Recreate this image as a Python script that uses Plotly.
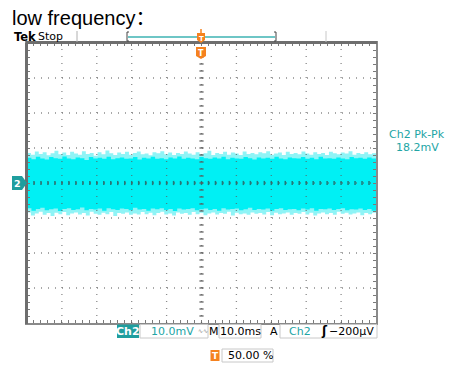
import numpy as np
import plotly.graph_objects as go

# ---------------- data ----------------
time_range_ms = [-50, 50]          # 10 div x 10.0 ms/div
volt_range_mV = [-40, 40]          # 8 div x 10.0 mV/div

# outer (light) envelope of the noise band, mV
up_outer = [8.6,8.1,9.0,8.3,8.8,7.9,8.5,9.2,8.2,8.7,8.0,8.9,8.4,8.1,9.1,8.3,8.6,7.8,8.8,8.2,
            9.3,8.5,8.0,8.7,8.3,8.9,8.1,8.6,9.0,8.2,8.4,7.9,8.8,8.5,9.1,8.2,8.7,8.0,8.6,8.3,
            9.0,8.4,8.1,8.8,8.2,8.5,9.2,8.0,8.6,8.3,8.9,8.1,8.7,8.4,8.0,9.0,8.3,8.6,8.2,8.8,
            8.5,9.1,8.1,8.4,8.7,8.0,8.9,8.3,8.6,8.2,9.0,8.4,8.1,8.8,8.3,8.6,8.0,8.9,8.5,8.2,
            8.7,8.4,9.1,8.1,8.6,8.3,8.8,8.2,8.5,8.9]
lo_outer = [-9.0,-8.4,-9.3,-8.7,-8.2,-9.1,-8.6,-9.4,-8.5,-8.9,-8.3,-9.2,-8.7,-8.4,-9.0,-8.6,-9.3,-8.2,-8.8,-9.1,
            -8.5,-8.9,-8.3,-9.4,-8.6,-8.8,-8.4,-9.1,-8.7,-9.0,-8.3,-8.9,-8.5,-9.2,-8.6,-8.2,-9.0,-8.7,-9.3,-8.4,
            -8.8,-8.6,-9.1,-8.3,-8.9,-8.5,-9.2,-8.7,-8.4,-9.0,-8.6,-8.8,-8.2,-9.3,-8.5,-8.9,-8.7,-9.1,-8.4,-8.8,
            -8.6,-9.0,-8.3,-9.2,-8.5,-8.9,-8.7,-8.4,-9.1,-8.6,-8.8,-8.3,-9.0,-8.5,-9.3,-8.7,-8.4,-8.9,-8.6,-9.1,
            -8.2,-8.8,-8.5,-9.0,-8.7,-8.4,-9.2,-8.6,-8.9,-8.5]
# dense core of the noise band, mV
up_core = [7.2,6.8,7.5,7.0,6.7,7.4,7.1,6.9,7.6,7.0,6.8,7.3,7.1,6.6,7.4,7.0,7.2,6.9,7.5,6.8,
           7.1,7.3,6.9,7.0,7.4,6.7,7.2,7.0,7.5,6.9,7.1,6.8,7.3,7.0,7.6,6.9,7.2,7.0,6.8,7.4,
           7.1,6.9,7.3,7.0,7.5,6.8,7.2,7.0,6.9,7.4,7.1,6.7,7.3,7.0,7.2,6.9,7.5,7.0,6.8,7.3,
           7.1,7.0,7.4,6.9,7.2,6.8,7.5,7.0,7.1,6.9,7.3,7.0,6.8,7.4,7.1,7.2,6.9,7.3,7.0,7.5]
lo_core = [-7.6,-7.2,-7.9,-7.4,-7.1,-7.8,-7.5,-7.3,-8.0,-7.4,-7.2,-7.7,-7.5,-7.0,-7.8,-7.4,-7.6,-7.3,-7.9,-7.2,
           -7.5,-7.7,-7.3,-7.4,-7.8,-7.1,-7.6,-7.4,-7.9,-7.3,-7.5,-7.2,-7.7,-7.4,-8.0,-7.3,-7.6,-7.4,-7.2,-7.8,
           -7.5,-7.3,-7.7,-7.4,-7.9,-7.2,-7.6,-7.4,-7.3,-7.8,-7.5,-7.1,-7.7,-7.4,-7.6,-7.3,-7.9,-7.4,-7.2,-7.7,
           -7.5,-7.4,-7.8,-7.3,-7.6,-7.2,-7.9,-7.4,-7.5,-7.3,-7.7,-7.4,-7.2,-7.8,-7.5,-7.6,-7.3,-7.7,-7.4,-7.9]

title_text = "low frequency："
readout_label = "Ch2 Pk-Pk"
readout_value = "18.2mV"
ch_scale = "10.0mV"
time_scale = "10.0ms"
trig_level = "−200µV"
trig_pos = "50.00 %"

# ---------------- figure geometry ----------------
W, H = 449, 367
L, R, T, B = 27, 376, 43, 323
def px(x): return (x - L) / (R - L)
def py(y): return (B - y) / (B - T)

TEAL = "#1f9e9e"
TEAL_TXT = "#22a5a5"
ORANGE = "#f5821f"
BOXC = "#c8c8c8"
FONT = "DejaVu Sans"

def band(up, lo):
    xu = np.linspace(time_range_ms[0], time_range_ms[1], len(up))
    xl = np.linspace(time_range_ms[0], time_range_ms[1], len(lo))
    return list(xu) + list(xl[::-1]), list(up) + list(lo[::-1])

fig = go.Figure()
bx, by = band(up_outer, lo_outer)
fig.add_trace(go.Scatter(x=bx, y=by, fill="toself", fillcolor="#8ff4f6",
                         line=dict(width=0), mode="lines", line_shape="hv", hoverinfo="skip"))
cx, cy = band(up_core, lo_core)
fig.add_trace(go.Scatter(x=cx, y=cy, fill="toself", fillcolor="#00f0f4",
                         line=dict(width=0), mode="lines", line_shape="hv", hoverinfo="skip"))

# center-line tick marks
minor_x = np.arange(time_range_ms[0] + 2, time_range_ms[1], 2)
minor_y = np.arange(volt_range_mV[0] + 2, volt_range_mV[1], 2)
fig.add_trace(go.Scatter(x=minor_x, y=[0] * len(minor_x), mode="markers",
                         marker=dict(symbol="line-ns", size=3, line=dict(width=1.5, color="rgba(40,90,90,0.8)")),
                         hoverinfo="skip"))
fig.add_trace(go.Scatter(x=[0] * len(minor_y), y=minor_y, mode="markers",
                         marker=dict(symbol="line-ew", size=3, line=dict(width=1.5, color="rgba(90,90,90,0.8)")),
                         hoverinfo="skip"))

shapes = []
# dotted graticule
for gx in range(-40, 50, 10):
    shapes.append(dict(type="line", xref="x", yref="y", x0=gx, x1=gx, y0=-40, y1=40,
                       line=dict(color="rgba(90,90,90,0.7)", width=1.3, dash="1px,6px"), layer="above"))
for gy in range(-30, 40, 10):
    shapes.append(dict(type="line", xref="x", yref="y", x0=-50, x1=50, y0=gy, y1=gy,
                       line=dict(color="rgba(90,90,90,0.7)", width=1.3, dash="1px,6px"), layer="above"))
# darker top / left bevel
shapes.append(dict(type="line", xref="paper", yref="paper", x0=px(L - 1), x1=px(R + 1), y0=py(T - 0.5), y1=py(T - 0.5),
                   line=dict(color="#6e6e6e", width=3), layer="above"))
shapes.append(dict(type="line", xref="paper", yref="paper", x0=px(L - 0.5), x1=px(L - 0.5), y0=py(T), y1=py(B + 1),
                   line=dict(color="#6e6e6e", width=3), layer="above"))

# header bar
shapes.append(dict(type="line", xref="paper", yref="paper", x0=px(77), x1=px(77), y0=py(31), y1=py(42),
                   line=dict(color="#b0b0b0", width=1)))
shapes.append(dict(type="line", xref="paper", yref="paper", x0=px(326), x1=px(326), y0=py(31), y1=py(42),
                   line=dict(color="#c8c8c8", width=1)))
shapes.append(dict(type="line", xref="paper", yref="paper", x0=px(128), x1=px(275), y0=py(37), y1=py(37),
                   line=dict(color="#6ec6c6", width=2)))
for bxp, d in [(127, 1), (276, -1)]:
    shapes.append(dict(type="path", xref="paper", yref="paper",
                       path=f"M {px(bxp + 2*d)} {py(32)} L {px(bxp)} {py(32)} L {px(bxp)} {py(41)} L {px(bxp + 2*d)} {py(41)}",
                       line=dict(color="#444", width=1)))

# channel 2 marker (pentagon pointing right)
shapes.append(dict(type="path", xref="paper", yref="paper",
                   path=f"M {px(12)} {py(176)} L {px(22)} {py(176)} L {px(27)} {py(183)} L {px(22)} {py(190)} L {px(12)} {py(190)} Z",
                   fillcolor=TEAL, line=dict(width=0)))

# trigger markers (orange)
for (ytop, ybot, w) in [(33, 42, 4), (47, 58, 5)]:
    shapes.append(dict(type="path", xref="paper", yref="paper",
                       path=f"M {px(201 - w)} {py(ytop)} L {px(201 + w)} {py(ytop)} L {px(201 + w)} {py(ybot - 2)} "
                            f"L {px(201)} {py(ybot + 1)} L {px(201 - w)} {py(ybot - 2)} Z",
                       fillcolor=ORANGE, line=dict(width=0)))
shapes.append(dict(type="line", xref="paper", yref="paper", x0=px(201), x1=px(201), y0=py(29), y1=py(33),
                   line=dict(color=ORANGE, width=1.5)))

# status boxes
def box(x0, x1, y0, y1, fill=None, color=BOXC):
    shapes.append(dict(type="rect", xref="paper", yref="paper", x0=px(x0), x1=px(x1), y0=py(y1), y1=py(y0),
                       fillcolor=fill if fill else "rgba(0,0,0,0)", line=dict(color=color, width=1 if not fill else 0)))
box(117, 139, 324.5, 338, fill=TEAL)
box(140, 208, 324.5, 338)
box(219, 261, 324.5, 338)
box(280, 377, 324.5, 338)
box(210.5, 219.5, 350, 361, fill=ORANGE)
box(222, 273, 349, 362)

ann = []
def text(x, y, s, size=11, color="black", xanchor="left", bold=False, family=FONT):
    ann.append(dict(x=px(x), y=py(y), xref="paper", yref="paper", text=f"<b>{s}</b>" if bold else s,
                    showarrow=False, xanchor=xanchor, yanchor="middle",
                    font=dict(size=size, color=color, family=family)))

text(10, 18, title_text, size=20, family="Liberation Sans, Noto Sans CJK SC")
text(12, 37, "Tek", size=11.5, bold=True)
text(36, 36, "Stop", size=11)
text(201, 38.5, "T", size=7, color="white", xanchor="center", bold=True)
text(201, 53, "T", size=8, color="white", xanchor="center", bold=True)
text(17.5, 183, "2", size=9.5, color="white", xanchor="center", bold=True)
text(417, 134, readout_label, size=11, color=TEAL_TXT, xanchor="center")
text(417, 147, readout_value, size=11, color=TEAL_TXT, xanchor="center")
text(128, 331.5, "Ch2", size=11, color="white", xanchor="center", bold=True)
text(149, 331.5, ch_scale, size=11, color=TEAL_TXT)
text(202.5, 330.5, "∿∿", size=6, color="#888", xanchor="center")
text(214, 331.5, "M", size=11, xanchor="center")
text(240, 331.5, time_scale, size=11, xanchor="center")
text(274, 331.5, "A", size=11, xanchor="center")
text(287, 331.5, "Ch2", size=11, color=TEAL_TXT)
text(324, 331.5, "ʃ", size=12, xanchor="center", bold=True)
text(376, 331.5, trig_level, size=11, xanchor="right")
text(215, 355.5, "T", size=9, color="white", xanchor="center", bold=True)
text(226, 355.5, trig_pos, size=11)

axis_common = dict(showgrid=False, zeroline=False, showticklabels=False, showline=True,
                   linecolor="#8a8a8a", linewidth=2, mirror="ticks", ticks="inside",
                   ticklen=3, tickwidth=1, tickcolor="#7a7a7a", fixedrange=True)
fig.update_layout(
    width=W, height=H, showlegend=False,
    margin=dict(l=L, r=W - R, t=T, b=H - B, pad=0),
    paper_bgcolor="white", plot_bgcolor="white",
    xaxis=dict(range=time_range_ms, dtick=2, tick0=0, **axis_common),
    yaxis=dict(range=volt_range_mV, dtick=2, tick0=0, **axis_common),
    shapes=shapes, annotations=ann,
)
fig.write_html("out.html", config={"displayModeBar": False},
               post_script="document.body.style.margin='0';document.body.style.overflow='hidden';")
